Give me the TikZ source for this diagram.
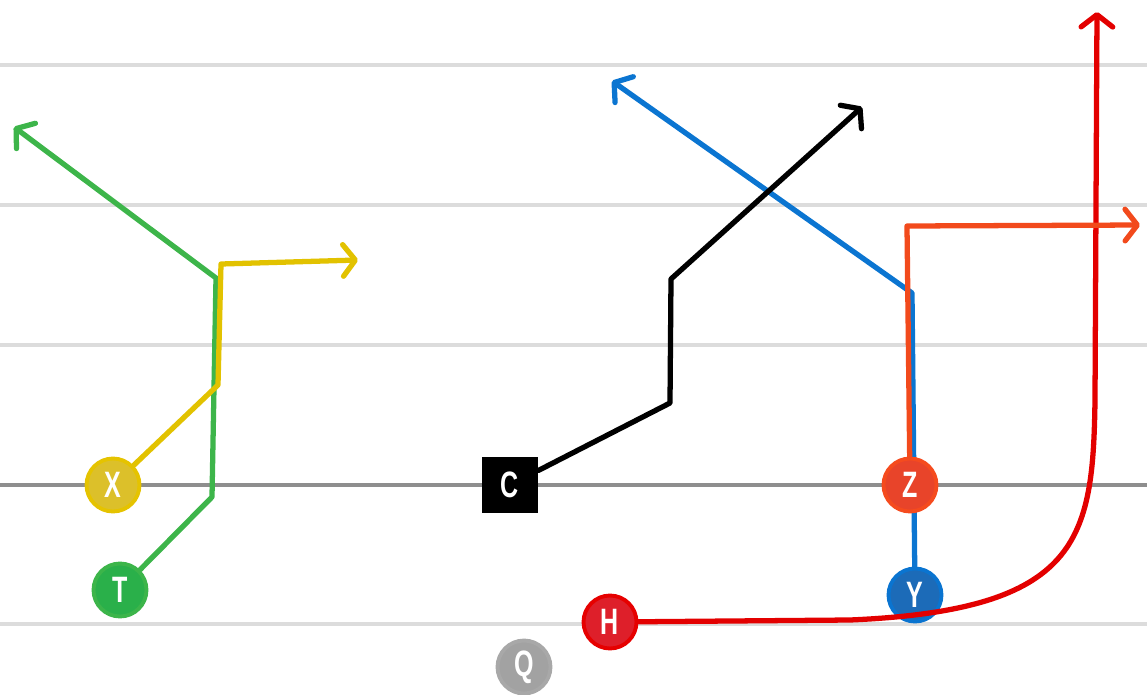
\documentclass[tikz,border=0pt]{standalone}
\usepackage{fontspec}
\usepackage{graphicx}
\newfontfamily\playerfont{Liberation Sans}
\usetikzlibrary{arrows.meta,backgrounds}

\definecolor{gridgray}{HTML}{DCDCDC}
\definecolor{losgray}{HTML}{8E8E8E}
\definecolor{xring}{HTML}{E5C300}\definecolor{xfill}{HTML}{DCC02A}
\definecolor{tring}{HTML}{3CB54A}\definecolor{tfill}{HTML}{2AB04A}
\definecolor{zring}{HTML}{F54B1E}\definecolor{zfill}{HTML}{E8442A}
\definecolor{yring}{HTML}{0A74D0}\definecolor{yfill}{HTML}{1C6BB8}
\definecolor{hring}{HTML}{E60000}\definecolor{hfill}{HTML}{DE1F2A}
\definecolor{qring}{HTML}{A8A8A8}\definecolor{qfill}{HTML}{A2A2A2}
\definecolor{greenroute}{HTML}{3DB54A}
\definecolor{yellowroute}{HTML}{E2C200}
\definecolor{blueroute}{HTML}{0B75D1}
\definecolor{orangeroute}{HTML}{F24A1C}
\definecolor{redroute}{HTML}{E30000}

\newcommand{\plabel}[1]{\scalebox{0.75}[1.1]{#1}}

\begin{document}
\begin{tikzpicture}[
    x=0.02cm, y=-0.02cm,
    player/.style={circle,draw,line width=2.2pt,minimum size=1.06cm,inner sep=0pt,text=white,
        font=\playerfont\bfseries\fontsize{19}{19}\selectfont},
    center/.style={rectangle,fill=black,minimum size=1.12cm,inner sep=0pt,text=white,
        font=\playerfont\bfseries\fontsize{19}{19}\selectfont},
    route/.style={line width=3pt,line cap=round,line join=round,
        -{Straight Barb[length=7pt,width=18pt,round]}},
    yard/.style={gridgray,line width=2pt}
]
    \useasboundingbox (0,0) rectangle (1147,694);

    % yard lines
    \begin{pgfonlayer}{background}
    \foreach \yy in {65,205,345,624}
        \draw[yard] (0,\yy) -- (1147,\yy);
    \draw[losgray,line width=2pt] (0,485) -- (1147,485);
    \end{pgfonlayer}

    % players
    \node[player,draw=xring,fill=xfill] (X) at (113,485) {\plabel{X}};
    \node[player,draw=tring,fill=tfill] (T) at (120,590) {\plabel{T}};
    \node[center] (C) at (510,485) {\plabel{C}};
    \node[player,draw=qring,fill=qfill] (Q) at (524,667) {\plabel{Q}};
    \node[player,draw=hring,fill=hfill] (H) at (610,622) {\plabel{H}};
    \node[player,draw=yring,fill=yfill] (Y) at (915,595) {\plabel{Y}};

    % routes
    \draw[route,greenroute] (T) -- (212,497) -- (216,278) -- (14,127);
    \draw[route,yellowroute] (X) -- (218,385) -- (221,264) -- (358,260);
    \draw[route,black] (C) -- (670,403) -- (671,279) -- (862,107);
    \begin{pgfonlayer}{background}
    \draw[route,blueroute] (Y) -- (912,293) -- (612,81);
    \end{pgfonlayer}
    \draw[route,redroute] (H) -- (850,620) .. controls (1080,610) and (1093,540) .. (1095,400) -- (1097,12);

    \node[player,draw=zring,fill=zfill] (Z) at (910,485) {\plabel{Z}};
    \draw[route,orangeroute] (Z) -- (907,226) -- (1140,225);
\end{tikzpicture}
\end{document}
